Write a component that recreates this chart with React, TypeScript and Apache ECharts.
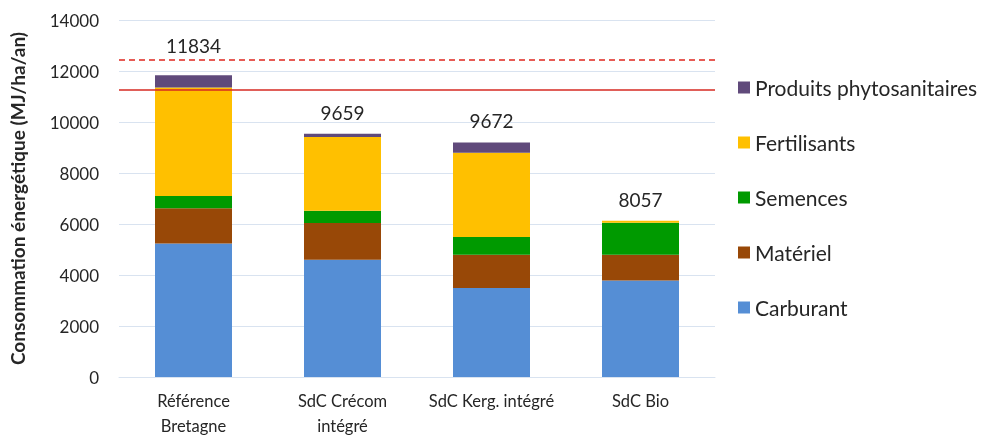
import React, { useEffect, useRef } from "react";
import * as echarts from "echarts";

const categories = ["Référence\nBretagne", "SdC Crécom\nintégré", "SdC Kerg. intégré", "SdC Bio"];
const carburant = [5240, 4600, 3490, 3780];
const materiel = [1374, 1437, 1305, 1015];
const semences = [483, 483, 693, 1255];
const fertilisants = [4260, 2888, 3306, 80];
const phytos = [477, 130, 406, 0];
const totalLabels = ["11834", "9659", "9672", "8057"];
const refLineDashed = 12430;
const refLineSolid = 11280;

const FONT = "Lato, 'Noto Sans', sans-serif";

export default function App() {
  const ref = useRef<HTMLDivElement>(null);
  useEffect(() => {
    if (!ref.current) return;
    const chart = echarts.init(ref.current, null, { renderer: "svg" });
    const barW = 77;
    const mk = (name: string, data: any[], color: string, extra: any = {}) => ({
      name,
      type: "bar",
      stack: "total",
      data,
      barWidth: barW,
      itemStyle: { color },
      emphasis: { disabled: true },
      ...extra,
    });
    chart.setOption({
      animation: false,
      textStyle: { fontFamily: FONT },
      grid: { left: 110, right: 272, top: 20, bottom: 61, containLabel: false },
      legend: {
        orient: "vertical",
        left: 738,
        top: 77,
        padding: 0,
        itemWidth: 12,
        itemHeight: 12,
        itemGap: 34,
        icon: "rect",
        textStyle: { fontSize: 21, color: "#262626", fontFamily: FONT },
        data: ["Produits phytosanitaires", "Fertilisants", "Semences", "Matériel", "Carburant"],
      },
      xAxis: {
        type: "category",
        data: categories,
        axisLine: { show: true, lineStyle: { color: "#D9E3F0", width: 1 } },
        axisTick: { show: false },
        axisLabel: {
          interval: 0,
          fontSize: 16.5,
          color: "#262626",
          lineHeight: 25,
          margin: 11,
          fontFamily: FONT,
        },
      },
      yAxis: {
        type: "value",
        min: 0,
        max: 14000,
        interval: 2000,
        name: "Consommation énergétique (MJ/ha/an)",
        nameLocation: "middle",
        nameGap: 92,
        nameTextStyle: { fontSize: 19, fontWeight: "bold", color: "#262626", fontFamily: FONT },
        axisLine: { show: false },
        axisTick: { show: false },
        axisLabel: {
          fontSize: 17,
          color: "#262626",
          margin: 20,
          fontFamily: FONT,
          formatter: (v: number) => String(v),
        },
        splitLine: { lineStyle: { color: "#D9E3F0", width: 1 } },
      },
      series: [
        mk("Carburant", carburant, "#558ED5", {
          markLine: {
            silent: true,
            symbol: "none",
            label: { show: false },
            data: [
              { yAxis: refLineDashed, lineStyle: { color: "#E0261E", type: [6, 4], width: 1.5 } },
              { yAxis: refLineSolid, lineStyle: { color: "#D62A22", type: "solid", width: 1.5 } },
            ],
          },
        }),
        mk("Matériel", materiel, "#984807"),
        mk("Semences", semences, "#009A00"),
        mk("Fertilisants", fertilisants, "#FFC000"),
        mk(
          "Produits phytosanitaires",
          phytos.map((v, i) => (i === 0 ? { value: v, label: { distance: 20 } } : v)),
          "#604A7B",
          {
            label: {
              show: true,
              position: "top",
              distance: 12,
              fontSize: 19,
              color: "#262626",
              fontFamily: FONT,
              formatter: (p: any) => totalLabels[p.dataIndex],
            },
          }
        ),
      ],
    });
    return () => chart.dispose();
  }, []);
  return (
    <div
      ref={ref}
      style={{ position: "fixed", left: 0, top: 0, width: 987, height: 438 }}
    />
  );
}
